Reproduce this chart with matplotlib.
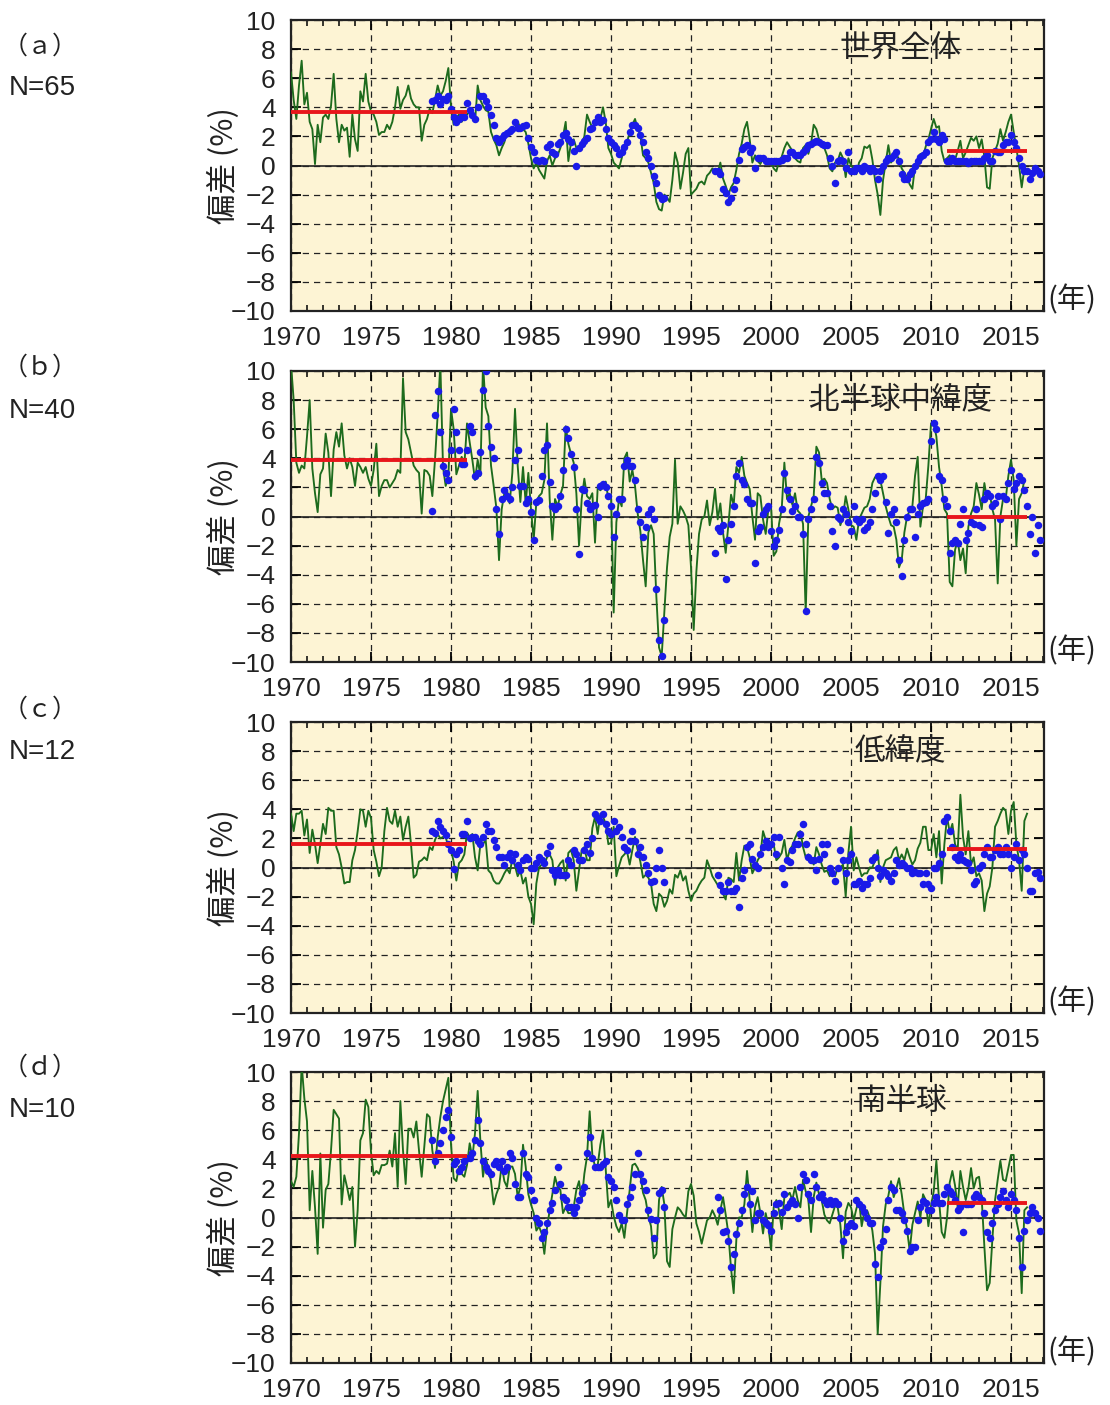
import numpy as np
import matplotlib
matplotlib.use('Agg')
import matplotlib.pyplot as plt
from matplotlib.ticker import MultipleLocator

plt.rcParams['font.family'] = ['Liberation Sans', 'Noto Sans CJK JP', 'DejaVu Sans']
plt.rcParams['axes.unicode_minus'] = True

nan = np.nan
# bimonthly sampling (6 values per year)
STEP = 1 / 6
T0_GREEN = 1970.0          # ground-based series starts Jan 1970
T0_BLUE = 1978 + 5 / 6     # satellite series starts Nov 1978

titles = ['世界全体', '北半球中緯度', '低緯度', '南半球']
panel_tags = ['（ａ）', '（ｂ）', '（ｃ）', '（ｄ）']
station_counts = ['N=65', 'N=40', 'N=12', 'N=10']
ref_periods = [(1970, 1981), (2011, 2016)]
ref_means = [(3.7, 1.0), (3.9, -0.05), (1.6, 1.3), (4.2, 1.0)]
xticks = list(range(1970, 2016, 5))
yticks = list(range(-10, 11, 2))

green_a = [
    6.4, 4.5, 3.2, 5.5, 7.2, 4.2,   5.0, 3.0, 2.5, 0.1, 2.8, 1.6,
    3.3, 3.5, 3.2, 4.1, 6.3, 3.2,   1.6, 2.8, 2.4, 2.6, 0.6, 3.5,
    1.8, 1.0, 5.1, 4.4, 6.3, 4.4,   3.7, 3.5, 3.0, 2.1, 2.3, 2.3,
    2.8, 2.5, 3.0, 4.0, 5.4, 3.9,   4.5, 4.8, 5.5, 4.6, 4.2, 4.0,
    4.0, 1.7, 2.8, 3.2, 3.9, 3.6,   4.5, 5.5, 4.8, 5.1, 5.8, 6.7,
    4.0, 2.8, 3.3, 3.5, 3.0, 3.3,   3.5, 3.7, 3.7, 3.0, 5.5, 4.5,
    4.1, 3.8, 3.7, 2.3, 1.8, 1.4,   0.7, 1.2, 1.6, 2.3, 2.3, 2.6,
    2.5, 3.0, 2.6, 2.5, 2.3, 1.5,   0.5, -0.2, 0.2, -0.3, -0.6, -0.9,
    0.3, 0.7, 0.0, 0.5, 0.7, 1.2,   2.0, 3.0, 0.3, 1.6, 1.8, 1.2,
    1.2, 1.5, 2.0, 3.5, 3.0, 2.6,   2.8, 3.0, 3.2, 4.0, 3.0, 1.2,
    0.8, 0.2, 0.0, -0.2, 0.5, 1.3,  1.6, 2.3, 2.8, 3.2, 2.5, 2.1,
    0.7, 0.5, 0.2, -0.5, -1.2, -2.5, -3.0, -3.1, -2.0, -2.2, -2.5, -1.0,
    0.9, 0.2, -1.6, -0.5, 0.8, 1.2, -2.0, -1.8, -1.6, -1.2, -1.1, -1.3,
    -0.7, -0.5, -0.2, -0.4, -0.5, 0.2, -0.9, -1.4, -2.0, -1.5, -1.2, -0.3,
    0.8, 1.5, 2.5, 3.0, 1.8, 0.2,   0.7, 0.3, 0.1, 0.5, 0.3, 0.2,
    0.2, -0.2, -0.4, 0.3, 0.6, 1.2, 1.6, 1.3, 1.0, 0.5, 0.3, 0.2,
    1.2, 1.4, 0.8, 1.5, 2.8, 2.5,   1.8, 1.6, 1.2, 0.7, -0.2, -0.4,
    0.2, 0.3, 0.9, 0.5, -0.8, 0.5,  0.0, -0.2, -0.6, 0.2, 0.5, 1.3,
    1.2, 1.4, 0.4, -1.0, -2.0, -3.4, -1.0, 0.2, 1.4, 0.2, 0.5, 0.8,
    0.4, -0.2, -0.5, -0.8, -1.3, -1.6, 0.0, 0.3, 0.8, 0.6, 1.3, 1.8,
    2.5, 3.2, 2.6, 2.7, 1.0, 0.3,   0.5, 0.7, 0.2, 0.4, 1.0, 1.7,
    0.5, 0.9, 1.4, 1.9, 1.7, 2.0,   1.2, 1.8, 0.6, -1.5, -1.6, 0.5,
    1.0, 1.5, 2.5, 1.7, 2.3, 3.0,   3.5, 2.3, 1.2, 0.0, -1.5, -0.2,
]

blue_a = [
    4.4,
    4.5, 4.8, 4.2, 4.6, 4.5, 4.8,   3.9, 3.3, 3.0, 3.2, 3.4, 3.3,
    4.3, 3.8, 3.5, 3.2, 4.0, 4.8,   4.8, 4.4, 4.0, 3.5, 2.8, 1.9,
    1.6, 1.9, 2.1, 2.2, 2.4, 2.5,   3.0, 2.6, 2.6, 2.7, 2.8, 1.9,
    1.3, 0.9, 0.4, 0.3, 0.4, 0.3,   1.3, 1.5, 0.9, 0.8, 1.5, 1.6,
    2.1, 2.2, 1.8, 1.6, 1.0, 0.0,   1.2, 1.5, 1.7, 1.9, 2.5, 2.6,
    3.0, 3.3, 3.0, 3.1, 2.5, 1.9,   1.6, 1.4, 1.2, 0.8, 0.9, 1.3,
    1.6, 2.3, 2.8, 2.8, 2.6, 2.1,   1.6, 0.9, 0.5, 0.0, -0.7, -1.2,
    -2.0, -2.3, -2.2, nan, nan, nan, nan, nan, nan, nan, nan, nan,
    nan, nan, nan, nan, nan, nan,   nan, nan, nan, -0.4, -0.4, -0.6,
    -1.6, -1.9, -2.5, -2.2, -1.6, -1.0, 0.4, 1.1, 1.3, 1.4, 0.9, 1.2,
    -0.2, 0.5, 0.5, 0.5, 0.3, 0.3,  0.3, 0.3, 0.3, 0.3, 0.4, 0.5,
    0.5, 0.9, 0.9, 0.7, 0.7, 0.7,   0.9, 1.1, 1.4, 1.5, 1.6, 1.7,
    1.6, 1.5, 1.4, 1.4, 0.5, 0.0,   -1.2, 0.3, 0.4, 0.3, -0.2, 0.9,
    -0.4, -0.4, -0.2, -0.2, -0.4, 0.0, -0.2, -0.4, -0.2, -0.4, -0.9, -0.4,
    0.0, 0.3, 0.5, 0.5, 0.7, 0.9,   0.3, -0.6, -0.9, -0.9, -0.6, -0.4,
    0.0, 0.3, 0.6, 0.7, 0.9, 1.6,   1.8, 2.3, 1.8, 1.6, 2.1, 1.8,
    0.3, 0.3, 0.5, 0.3, 0.3, 0.3,   0.3, 0.3, 0.2, 0.3, 0.3, 0.3,
    0.3, 0.3, 0.5, 0.7, 0.3, 0.3,   1.0, 0.9, 0.9, 1.4, 1.6, 1.6,
    2.1, 1.6, 1.2, 0.5, 0.0, -0.4,  -0.4, -0.9, -0.5, -0.2, -0.4, -0.6,
]

green_b = [
    10.5, 8.0, 3.7, 3.0, 3.5, 3.3,  5.5, 8.0, 3.3, 1.6, 0.3, 2.9,
    3.3, 5.7, 4.4, 1.4, 4.6, 5.8,   4.8, 6.4, 4.2, 3.3, 4.0, 3.4,
    2.1, 3.7, 3.4, 3.0, 3.4, 2.6,   2.1, 3.2, 5.0, 1.4, 2.1, 2.5,
    2.5, 2.0, 2.3, 2.6, 3.2, 3.0,   9.5, 5.8, 5.3, 4.4, 3.5, 3.2,
    3.0, 0.2, 3.2, 3.1, 2.8, 1.4,   3.9, 7.0, 10.5, 3.4, 2.1, 2.7,
    7.4, 6.0, 2.9, 3.5, 4.1, 3.5,   6.4, 5.1, 3.9, 2.5, 3.9, 2.8,
    10.5, 7.5, 6.9, 3.5, 2.1, 0.6,  -3.0, 0.5, 1.6, 1.8, 0.9, 3.0,
    7.4, 3.5, 1.0, 3.4, 0.9, 3.0,   0.5, -1.6, 1.0, 1.4, 1.6, 2.5,
    6.4, 1.2, -1.6, 1.2, 0.7, 1.5,  2.1, 6.2, 5.0, 4.3, 3.7, 1.6,
    -2.0, 1.2, 2.6, 1.4, 1.2, 1.6,  -1.8, 2.0, 1.8, 2.0, 2.4, 1.2,
    1.5, -6.6, -0.4, 1.2, 0.7, 4.0, 4.4, 2.4, 3.2, 2.1, 0.2, -1.0,
    -3.0, -4.8, -1.1, -0.6, -1.2, -5.5, -9.0, -9.6, -6.5, -3.5, -1.4, -0.5,
    3.9, -0.5, 0.7, 0.4, 0.0, -0.6, -3.5, -7.8, -3.8, -1.2, -0.2, 0.0,
    1.1, -0.6, 0.3, 1.9, -0.2, 0.9, -1.1, -2.5, -0.6, 1.5, 0.8, 3.4,
    3.0, 4.1, 2.8, 2.3, 1.9, 0.0,   -1.6, 1.6, 1.4, -0.2, -1.2, 0.5,
    0.7, -2.7, -2.4, -0.5, 0.5, 3.7, 1.2, 1.6, 0.8, 1.6, 0.4, 0.2,
    -0.5, -6.6, 0.0, 0.7, 1.4, 4.8, 4.4, 2.5, 2.6, 2.3, 1.2, 0.5,
    0.7, 0.6, -0.6, 0.0, 1.4, 0.5,  -0.6, -0.7, -1.6, -0.2, 0.2, 0.6,
    0.7, 1.2, 2.3, 2.7, 2.7, 2.5,   1.6, 0.7, 0.0, -0.6, -0.7, -1.6,
    -3.5, -3.0, -1.1, 0.0, 0.4, 0.7, 2.8, 4.1, -0.7, 0.7, 1.2, 3.5,
    6.4, 6.4, 5.5, 3.4, 2.1, 0.5,   0.2, -4.5, -4.8, -2.3, -1.6, -3.0,
    -2.2, -3.9, -0.7, 0.2, 0.7, 2.3, 1.5, 0.5, 2.3, 1.2, 1.6, 0.5,
    -0.2, -4.6, 0.0, 1.2, 1.2, 2.8, 3.9, 2.5, -2.0, 1.2, 1.6, 2.5,
]

blue_b = [
    0.4,
    7.0, 8.6, 5.8, 3.5, 3.0, 2.5,   4.6, 7.4, 5.8, 4.6, 3.6, 3.6,
    4.6, 6.2, 5.8, 2.8, 3.0, 4.4,   8.7, 10.0, 6.2, 4.8, 4.0, 0.5,
    -1.2, 1.2, 1.8, 1.4, 1.2, 2.0,  3.9, 4.6, 2.1, 2.1, 0.9, 1.2,
    0.3, -1.6, 1.0, 1.1, 2.8, 4.6,  4.9, 2.4, 0.7, 0.5, 0.7, 1.4,
    3.2, 6.0, 5.4, 4.3, 3.4, 0.5,   -2.6, 1.9, 1.8, 0.9, 0.5, 0.7,
    0.8, 0.0, 2.1, 2.2, 2.0, 1.4,   0.7, -1.4, 0.2, 1.2, 1.2, 3.5,
    3.9, 3.5, 3.5, 2.5, 0.5, -0.4,  -1.4, -0.7, 0.2, 0.5, -0.2, -5.0,
    -8.5, -9.6, -7.1, nan, nan, nan, nan, nan, nan, nan, nan, nan,
    nan, nan, nan, nan, nan, nan,   nan, nan, nan, -2.5, -0.8, -1.0,
    -0.6, -4.3, -1.6, -0.5, 0.7, 2.8, 3.7, 2.5, 2.2, 1.2, 0.9, 0.9,
    -3.2, -1.0, -0.7, 0.2, 0.5, 0.7, -1.0, -2.0, -1.6, -0.9, 0.5, 3.0,
    1.8, 1.2, 0.4, 0.7, 0.0, 0.0,   -1.2, -6.5, -0.2, 0.5, 1.2, 4.1,
    3.7, 2.3, 1.6, 1.6, 0.7, -1.0,  -2.0, 0.0, -0.2, 0.5, 0.2, -0.4,
    -1.0, 0.7, -0.2, -0.4, -0.2, -0.9, -0.7, -0.4, 0.5, 1.6, 2.8, 2.5,
    2.8, 1.0, -1.1, 0.2, 0.5, -0.4, -3.0, -4.1, -1.6, 0.0, 0.5, 0.5,
    -1.4, 0.2, 0.7, 0.9, 1.0, 1.2,  5.2, 6.4, 6.0, 2.8, 2.5, 1.2,
    0.7, -2.5, -1.8, -1.6, -1.8, -0.5, 0.5, -1.6, -1.1, -0.4, -0.5, 0.5,
    -0.6, -0.7, 1.2, 1.6, 1.4, 0.7, 0.9, 1.4, -0.2, 1.4, 1.2, 2.3,
    3.2, 1.9, 2.3, 2.8, 2.5, 1.8,   0.7, -1.2, 0.0, -2.5, -0.6, -1.6,
]

green_c = [
    3.7, 2.5, 3.7, 3.7, 3.9, 2.2,   3.3, 1.0, 2.6, 1.6, 0.3, 1.6,
    3.0, 2.3, 4.1, 3.9, 3.9, 1.4,   0.9, 0.0, -1.1, -1.0, -1.0, 0.5,
    1.2, 2.5, 4.0, 3.9, 2.8, 3.9,   3.4, 1.2, 0.4, -0.6, 0.0, 2.5,
    4.1, 3.2, 3.0, 3.9, 2.8, 3.5,   1.9, 2.8, 3.5, 1.6, -0.7, -0.5,
    0.4, 0.5, 0.7, 0.5, 1.4, 1.2,   1.9, 2.3, 2.0, 2.1, 2.1, 1.4,
    1.2, 0.4, -0.9, 0.3, 0.5, 0.9,  2.4, 2.1, 2.3, 0.7, -0.2, 1.6,
    1.6, 1.9, -0.2, -0.4, -0.9, -1.1, -1.1, -0.8, -0.4, -0.1, -0.4, 0.6,
    0.1, -0.6, -0.2, -1.1, -0.7, -2.0, -2.5, -3.9, -1.1, 0.0, 0.2, 0.2,
    0.7, 0.9, 0.5, -1.2, 0.0, 0.3,  0.5, -0.9, 1.0, 1.2, 0.5, -1.6,
    -0.2, 1.2, 1.4, 0.5, 0.5, 2.7,  3.5, 2.3, 3.7, 3.5, 3.0, 1.6,
    1.7, 2.8, -0.6, 0.1, 0.7, 0.9,  1.1, 0.2, 1.2, 2.1, 1.2, 0.4,
    -0.7, -0.5, -0.7, -1.1, -2.5, -3.0, -1.8, -2.0, -2.7, -2.3, -1.5, -1.8,
    -0.5, -0.7, -0.2, -0.9, -0.6, -1.6, -2.3, -1.8, -1.6, -1.2, -0.9, -0.7,
    0.5, 0.0, -0.6, -0.9, -1.2, -1.4, -1.8, -2.2, -0.7, -0.8, -1.0, 1.0,
    -0.9, 0.5, 1.5, 1.4, 0.7, -0.4, 0.0, 0.5, 0.8, 2.5, 1.9, 1.4,
    1.4, 1.6, 0.5, 0.7, 1.0, 1.9,   0.5, 1.2, 1.5, 2.0, 2.4, 2.5,
    1.4, 0.7, 0.9, 0.6, 0.2, 1.4,   0.9, 0.2, -0.3, -0.2, -0.6, 0.0,
    -0.6, 0.0, 0.0, 0.2, -2.0, 1.0, 2.8, -0.2, 0.7, 0.0, -0.6, -0.4,
    -0.4, 0.0, 0.0, 0.5, 1.2, -1.0, 0.0, 0.5, 0.6, 0.7, 1.2, 1.4,
    0.5, 0.9, 0.5, 1.3, 0.7, 0.2,   0.5, 1.3, 1.7, 2.8, 2.8, 1.2,
    1.2, 2.3, 0.7, 2.5, -1.1, 1.6,  3.5, 2.4, 3.0, 1.6, 1.2, 5.0,
    2.1, 0.9, 2.5, 0.2, 0.7, -0.6,  -0.4, -0.9, -3.0, -1.8, -1.3, 0.0,
    2.8, 3.2, 3.7, 4.1, 3.9, 2.3,   3.9, 4.5, 1.6, 0.5, -1.6, 3.2,
    3.7,
]

blue_c = [
    2.5,
    2.4, 3.2, 2.8, 2.5, 2.2, 1.6,   1.2, -0.1, 0.9, 1.2, 2.3, 2.3,
    3.2, 2.0, 2.1, 2.1, 1.8, 1.6,   2.1, 3.0, 2.5, 2.5, 1.9, 1.4,
    0.7, 0.7, 0.2, 0.7, 1.0, 0.5,   0.9, 0.2, -0.2, 0.5, 0.7, 0.6,
    0.0, 0.0, 0.3, 0.7, 0.5, 0.3,   1.0, 1.5, -0.2, -0.5, -0.2, -0.5,
    -0.5, -0.5, 0.5, 0.2, 1.2, 0.9, 0.5, 0.5, 1.2, 1.6, 1.0, 2.0,
    3.7, 3.4, 3.2, 3.7, 3.0, 2.5,   2.3, 3.2, 2.5, 2.8, 2.1, 1.4,
    1.2, 1.8, 2.5, 1.8, 0.9, 1.4,   0.7, 0.2, -0.4, -1.0, -0.9, 0.0,
    1.2, 0.0, -1.0, nan, nan, nan,  nan, nan, nan, nan, nan, nan,
    nan, nan, nan, nan, nan, nan,   nan, nan, nan, nan, -0.5, -1.2,
    -1.6, -1.6, -1.0, -1.6, -1.6, -1.4, -2.7, -0.7, -0.2, 1.4, 1.6, 0.6,
    0.2, 0.0, 0.9, 1.4, 1.8, 1.4,   1.6, 2.1, 0.9, 2.1, 0.0, -1.1,
    0.5, 0.4, 1.2, 1.6, 1.6, 2.3,   3.0, 1.6, 0.7, 0.5, 0.5, -0.2,
    0.6, 1.6, 0.9, 1.6, 0.0, -0.4,  -0.9, 0.0, 1.2, 0.5, -0.4, 0.5,
    0.9, -1.1, -1.1, -0.9, -1.4, -1.1, -1.1, -0.7, 0.5, 0.7, 0.0, -0.6,
    -0.2, -0.4, -0.6, -0.9, -0.4, 0.5, 0.2, 0.3, 0.2, 0.0, 0.0, -0.4,
    -0.3, -0.4, -0.4, -1.1, -0.4, -1.1, -1.4, 0.0, 0.0, 0.3, 0.9, 3.2,
    3.5, 2.5, 1.4, 0.7, 0.5, 0.9,   0.5, 0.4, 0.3, -0.2, -1.1, -0.9,
    0.0, 0.2, 0.9, 1.4, 0.7, 0.7,   1.2, 1.4, 0.9, 0.9, 1.4, 0.9,
    0.0, 0.7, 1.6, 0.5, 1.2, 0.9,   0.0, -1.6, -1.6, -0.4, -0.3, -0.7,
]

green_d = [
    2.5, 2.1, 2.8, 5.8, 10.5, 8.2,  6.6, 0.5, 3.2, 0.7, -2.5, 4.4,
    -0.7, 1.9, 2.3, 4.6, 7.4, 7.1,  6.8, 0.9, 2.9, 2.1, 1.2, 2.1,
    -2.0, 0.5, 5.3, 5.8, 8.1, 7.6,  4.5, 2.9, 3.2, 3.0, 3.6, 3.6,
    3.7, 4.6, 3.5, 5.8, 2.1, 8.0,   4.6, 2.3, 6.1, 6.1, 5.5, 6.6,
    4.6, 2.8, 4.9, 7.1, 6.9, 4.6,   3.4, 5.5, 6.9, 8.0, 8.8, 9.6,
    5.0, 2.7, 2.5, 3.5, 3.0, 2.8,   3.6, 5.1, 4.1, 5.8, 8.7, 5.3,
    2.8, 4.1, 3.4, 2.5, 0.9, 1.6,   2.1, 3.6, 2.5, 2.1, 3.5, 3.5,
    3.0, 1.4, 2.1, 5.0, 3.5, 1.6,   0.9, 0.3, -0.9, -0.6, -1.1, -2.5,
    -0.7, 0.5, 1.6, 2.8, 2.1, 1.9,  0.3, 0.7, 0.3, 0.3, 0.7, 1.9,
    2.5, 1.2, 3.0, 4.2, 7.3, 4.3,   3.5, 3.6, 5.0, 6.0, 3.4, 0.7,
    1.2, 0.1, -0.6, -1.0, -0.4, -1.4, 0.3, 1.9, 3.6, 3.7, 3.4, 2.9,
    1.7, 1.2, 0.1, -0.6, -2.8, -2.5, 1.2, 2.1, 0.9, -3.0, -3.4, -0.8,
    0.0, 0.7, 0.5, 0.2, 0.0, 1.8,   2.3, 1.5, -0.4, -1.0, -1.8, -1.0,
    -0.2, 0.0, 0.5, 0.1, -0.5, 0.5, 1.4, 0.2, -1.1, -3.5, -5.2, -1.5,
    0.0, 0.0, 0.9, 3.2, 1.2, -1.0,  0.7, 1.4, 0.3, -1.1, 0.3, -0.6,
    -2.2, 0.7, 1.2, 0.5, -0.8, 1.4, 1.5, 1.7, 1.2, 2.1, 1.2, 0.7,
    2.6, 1.8, 1.2, -1.0, 1.4, 2.4,  1.6, 1.2, 0.2, -0.2, -0.4, 0.2,
    0.8, 0.7, -0.5, -2.8, 0.4, 1.0, 0.7, -0.2, 0.6, 1.2, -0.6, 0.4,
    0.5, 0.0, -0.9, -2.5, -8.0, -4.5, -0.6, 0.9, 1.5, 2.5, 1.4, 2.0,
    2.7, 1.6, 0.2, -0.8, -2.3, -0.5, 0.3, 1.1, 0.0, 1.6, 1.2, -0.6,
    0.8, 1.8, 3.9, 1.2, -1.0, -1.4, 0.0, 2.4, 3.2, 2.2, 0.7, 3.2,
    2.1, 1.2, 2.0, 3.4, 2.0, 2.7,   2.8, 1.3, -2.0, -5.0, -4.5, -1.5,
    1.2, 2.6, 3.9, 2.6, 2.5, 3.4,   4.3, 4.3, -0.2, -1.1, -5.2, 0.5,
    0.7,
]

blue_d = [
    5.3,
    3.9, 4.4, 5.1, 6.0, 6.9, 7.4,   5.5, 3.7, 3.9, 3.2, 3.5, 3.9,
    4.1, 4.1, 4.4, 5.3, 6.7, 5.1,   3.9, 3.5, 3.2, 3.0, 3.7, 3.9,
    3.5, 3.9, 3.2, 3.5, 4.4, 4.1,   2.3, 1.4, 1.4, 4.4, 3.0, 2.8,
    1.9, 1.2, 0.0, -0.4, -1.4, -1.0, -0.4, 0.5, 1.0, 1.9, 3.5, 2.3,
    1.4, 1.2, 0.7, 0.7, 0.3, 0.7,   1.2, 1.7, 2.1, 4.4, 5.5, 4.1,
    3.5, 3.5, 3.5, 3.7, 3.9, 2.8,   2.5, 2.1, 1.2, 0.2, -0.2, -0.2,
    0.9, 1.4, 2.1, 3.0, 4.4, 3.0,   2.5, 1.9, 0.5, -0.1, -1.4, -0.2,
    1.7, 1.9, 0.7, nan, nan, nan,   nan, nan, nan, nan, nan, nan,
    nan, nan, nan, nan, nan, nan,   nan, nan, nan, nan, 1.4, 0.5,
    -1.0, -0.9, -1.6, -3.4, -2.5, -1.1, -0.4, 0.5, 1.6, 2.1, 0.9, 1.8,
    -0.2, 0.3, 0.3, -0.2, -0.4, -0.5, -0.9, 0.3, 0.9, 1.0, 0.4, 1.6,
    0.7, 1.0, 1.2, 0.9, 0.0, 2.1,   3.0, 2.6, 1.6, 1.2, 3.0, 2.1,
    1.4, 1.6, 1.2, 0.9, 1.2, 0.9,   1.1, 0.9, 0.0, -1.6, -1.0, -0.6,
    -0.4, -0.6, 1.2, 0.9, 0.7, 0.4, 0.0, -0.4, -0.4, -3.2, -4.1, -2.0,
    -1.6, -0.8, 1.2, 2.1, 1.9, 0.5, 0.5, 0.3, -0.2, -0.9, -2.3, -2.0,
    -2.0, -0.2, 0.7, 1.1, 1.0, 0.5, 0.5, 1.0, 1.4, 1.0, 1.0, 1.6,
    2.1, 1.8, 1.6, 1.2, 0.5, 0.7,   -1.0, 0.9, 0.9, 0.9, 1.4, 1.6,
    1.4, 1.2, 0.3, -1.0, -1.4, -0.4, 0.5, 0.9, 1.4, 1.8, 1.2, 0.7,
    1.6, 1.2, 0.5, -1.4, -3.4, -0.9, -0.2, 0.3, 0.7, 0.3, 0.0, -0.9,
]

greens = [green_a, green_b, green_c, green_d]
blues = [blue_a, blue_b, blue_c, blue_d]

GREEN = '#1d6b1d'
BLUE = '#1a1ae8'
RED = '#e8161b'
BG = '#fdf4d4'
INK = '#222222'
CJK = ['Noto Sans CJK JP', 'DejaVu Sans']

W, H = 1110, 1405
fig = plt.figure(figsize=(W / 100, H / 100), dpi=100)

ax_left, ax_right = 291, 1044
tops = [20, 371, 722, 1072]
ax_h = 291
tag_y = [(47, 88), (368, 411), (710, 752), (1068, 1110)]

for i in range(4):
    top = tops[i]
    ax = fig.add_axes([ax_left / W, 1 - (top + ax_h) / H,
                       (ax_right - ax_left) / W, ax_h / H])
    ax.set_facecolor(BG)
    g = np.array(greens[i], dtype=float)
    b = np.array(blues[i], dtype=float)
    tg = T0_GREEN + np.arange(len(g)) * STEP
    tb = T0_BLUE + np.arange(len(b)) * STEP
    ax.plot(tg, g, color=GREEN, lw=1.35, zorder=3)
    ax.plot(tb, b, 'o', color=BLUE, ms=5.4, mec='none', zorder=4)
    for (s, e), v in zip(ref_periods, ref_means[i]):
        ax.plot([s, e], [v, v], color=RED, lw=2.8, zorder=5,
                solid_capstyle='butt')
    ax.axhline(0, color=INK, lw=1.2, zorder=2)

    ax.set_xlim(1970, 2017.06)
    ax.set_ylim(-10, 10)
    ax.set_xticks(xticks)
    ax.set_xticklabels([str(t) for t in xticks])
    ax.xaxis.set_minor_locator(MultipleLocator(1))
    ax.set_yticks(yticks)
    ax.set_yticklabels([str(t).replace('-', '\u2212') for t in yticks])
    ax.grid(True, which='major', color=INK, ls=(0, (5, 4)), lw=0.9,
            zorder=1)
    ax.tick_params(which='major', direction='in', top=True, right=True,
                   length=7, width=1.3, labelsize=19, labelcolor=INK)
    ax.tick_params(axis='x', which='major', pad=11)
    ax.tick_params(axis='y', which='major', pad=11)
    ax.tick_params(which='minor', direction='in', top=True, right=True,
                   length=4, width=1.1)
    for sp in ax.spines.values():
        sp.set_linewidth(1.6)
        sp.set_color(INK)

    ax.text(2008.1, 8.0, titles[i], fontsize=22, ha='center', va='center',
            family=CJK, color=INK, zorder=6)
    fig.text(1047 / W, 1 - (top + ax_h - 11) / H, '(年)', fontsize=21,
             ha='left', va='center', family=CJK, color=INK)
    fig.text(224 / W, 1 - (top + ax_h / 2) / H, '偏差 (%)', rotation=90,
             fontsize=22, ha='center', va='center', family=CJK, color=INK)
    ty, ny = tag_y[i]
    fig.text(40 / W, 1 - ty / H, panel_tags[i], fontsize=18, ha='center',
             va='center', family=CJK, color=INK)
    fig.text(9 / W, 1 - ny / H, station_counts[i], fontsize=20, ha='left',
             va='center', family=['Liberation Sans'], color=INK)

fig.savefig('out.png', dpi=100)
